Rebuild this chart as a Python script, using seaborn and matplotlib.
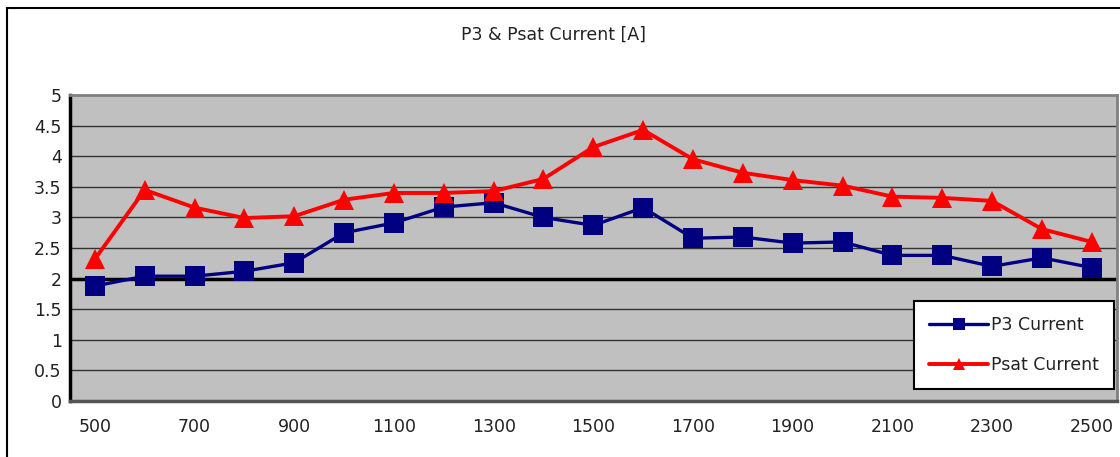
import matplotlib
matplotlib.use("Agg")
import pandas as pd
import numpy as np
import matplotlib.pyplot as plt
import seaborn as sns

# Data
freq = list(range(500, 2600, 100))
p3_current = [1.88, 2.04, 2.04, 2.12, 2.26, 2.75, 2.91, 3.17, 3.24, 3.00, 2.87,
              3.16, 2.66, 2.68, 2.58, 2.60, 2.38, 2.38, 2.20, 2.34, 2.18]
psat_current = [2.32, 3.45, 3.16, 2.99, 3.02, 3.29, 3.40, 3.40, 3.43, 3.63, 4.15,
                4.43, 3.95, 3.73, 3.61, 3.52, 3.34, 3.32, 3.27, 2.81, 2.60]
y_ticks = [0, 0.5, 1, 1.5, 2, 2.5, 3, 3.5, 4, 4.5, 5]
x_labels = list(range(500, 2600, 200))

df = pd.DataFrame({'freq': freq, 'P3 Current': p3_current, 'Psat Current': psat_current})

sns.set_style("white")
plt.rcParams['font.family'] = ['DejaVu Sans']

fig = plt.figure(figsize=(11.2, 4.57), dpi=100)
ax = fig.add_axes([0.0625, 0.1225, 0.9345, 0.6695])
ax.set_facecolor('#C0C0C0')

# horizontal gridlines
for y in y_ticks[1:-1]:
    ax.axhline(y, color='#333333', lw=1, zorder=1)
ax.axhline(2, color='black', lw=2.5, zorder=1.5)

sns.lineplot(data=df, x='freq', y='P3 Current', ax=ax, color='#000080', lw=2.4,
             marker='s', markersize=14, markeredgewidth=0, label='P3 Current', zorder=3)
sns.lineplot(data=df, x='freq', y='Psat Current', ax=ax, color='#FF0000', lw=2.8,
             marker='^', markersize=15, markeredgewidth=0, label='Psat Current', zorder=4)

ax.set_xlim(450, 2550)
ax.set_ylim(0, 5)
ax.set_yticks(y_ticks)
ax.set_yticklabels([f'{v:g}' for v in y_ticks], fontsize=12.5, color='#222222')
ax.set_xticks(x_labels)
ax.set_xticklabels([str(v) for v in x_labels], fontsize=12.5, color='#222222')
ax.set_xticks(np.arange(550, 2550, 100), minor=True)
ax.tick_params(axis='x', which='major', length=0, pad=12)
ax.tick_params(axis='x', which='minor', length=5, direction='in', width=1.2, color='black')
ax.tick_params(axis='y', length=0, pad=6)
ax.set_xlabel('')
ax.set_ylabel('')

for side in ['top', 'right']:
    ax.spines[side].set_color('#808080')
    ax.spines[side].set_linewidth(2)
ax.spines['left'].set_color('black')
ax.spines['left'].set_linewidth(2.5)
ax.spines['bottom'].set_color('#555555')
ax.spines['bottom'].set_linewidth(2.5)

leg = ax.legend(loc='lower right', bbox_to_anchor=(0.997, 0.039), frameon=True, fancybox=False,
                edgecolor='black', framealpha=1, fontsize=12.5, handlelength=3.4,
                handletextpad=0.15, labelspacing=1.3, borderpad=0.85, borderaxespad=0,
                markerscale=0.6)
leg.get_frame().set_linewidth(1.5)
leg.get_frame().set_facecolor('white')
for t in leg.get_texts():
    t.set_color('#222222')

fig.text(0.494, 0.924, 'P3 & Psat Current [A]', ha='center', va='center', fontsize=12.5,
         color='#222222')

# outer chart frame
fig.patches.append(plt.Rectangle((0.006, -0.01), 1.1, 0.993, transform=fig.transFigure,
                                 fill=False, edgecolor='black', lw=1.5))

fig.savefig('out.png', dpi=100)
